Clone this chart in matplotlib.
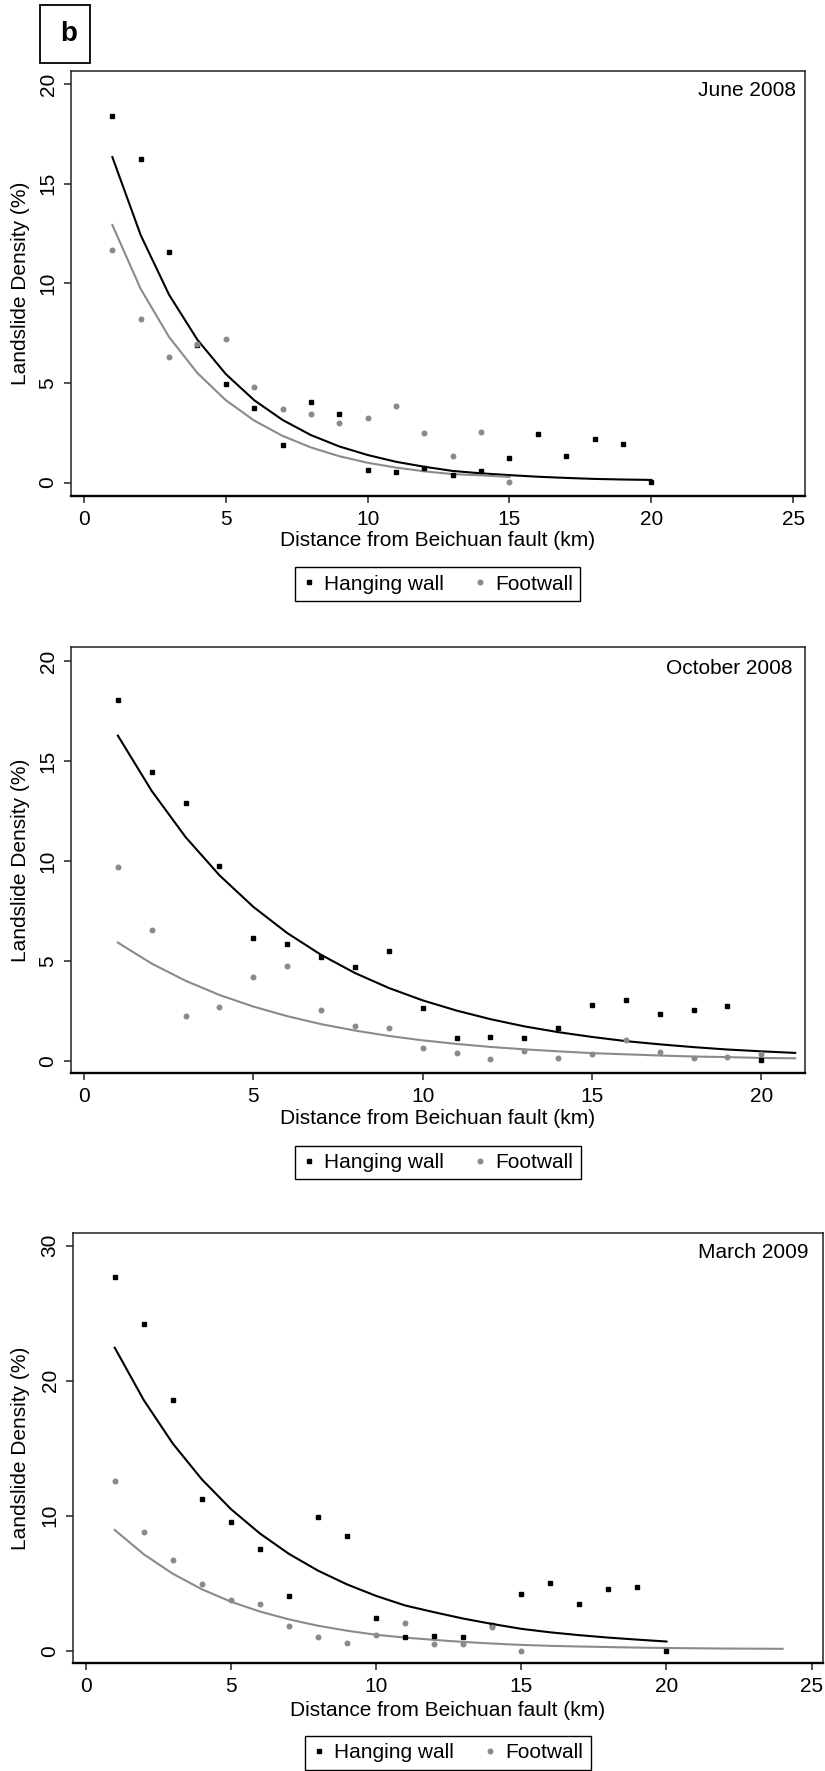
# Landslide density vs distance from Beichuan fault, three survey dates (panel b)
import matplotlib
matplotlib.use('Agg')
import matplotlib.pyplot as plt
from matplotlib.patches import Rectangle
from matplotlib.lines import Line2D

plt.rcParams['font.family'] = ['Liberation Sans', 'DejaVu Sans']

# ---- data ----
# June 2008
jun_hw_x = [1, 2, 3, 4, 5, 6, 7, 8, 9, 10, 11, 12, 13, 14, 15, 16, 17, 18, 19, 20]
jun_hw_y = [18.40, 16.25, 11.58, 6.9, 4.93, 3.74, 1.88, 4.04, 3.44, 0.61,
            0.51, 0.72, 0.36, 0.59, 1.21, 2.42, 1.35, 2.18, 1.95, 0.03]
jun_fw_x = [1, 2, 3, 4, 5, 6, 7, 8, 9, 10, 11, 12, 13, 14, 15]
jun_fw_y = [11.68, 8.19, 6.28, 6.93, 7.18, 4.79, 3.70, 3.45, 2.99, 3.24,
            3.82, 2.50, 1.31, 2.55, 0.04]
jun_hw_fit = [16.33, 12.41, 9.42, 7.16, 5.44, 4.13, 3.14, 2.38, 1.81, 1.38,
              1.04, 0.79, 0.58, 0.46, 0.37, 0.29, 0.23, 0.18, 0.15, 0.13]
jun_fw_fit = [12.92, 9.71, 7.30, 5.49, 4.13, 3.11, 2.34, 1.76, 1.32, 0.99,
              0.75, 0.56, 0.42, 0.36, 0.28]

# October 2008
oct_hw_x = [1, 2, 3, 4, 5, 6, 7, 8, 9, 10, 11, 12, 13, 14, 15, 16, 17, 18, 19, 20]
oct_hw_y = [18.05, 14.47, 12.91, 9.73, 6.15, 5.86, 5.2, 4.70, 5.49, 2.62,
            1.12, 1.19, 1.12, 1.62, 2.79, 3.04, 2.32, 2.55, 2.74, 0.04]
oct_fw_x = [1, 2, 3, 4, 5, 6, 7, 8, 9, 10, 11, 12, 13, 14, 15, 16, 17, 18, 19, 20]
oct_fw_y = [9.69, 6.53, 2.22, 2.70, 4.19, 4.74, 2.52, 1.75, 1.63, 0.62,
            0.38, 0.07, 0.5, 0.14, 0.32, 1.02, 0.45, 0.14, 0.2, 0.34]
oct_fit_x = [1, 2, 3, 4, 5, 6, 7, 8, 9, 10, 11, 12, 13, 14, 15, 16, 17, 18, 19, 20, 21]
oct_hw_fit = [16.27, 13.50, 11.19, 9.28, 7.70, 6.39, 5.30, 4.39, 3.64, 3.02,
              2.51, 2.08, 1.72, 1.43, 1.19, 0.98, 0.82, 0.68, 0.56, 0.47, 0.39]
oct_fw_fit = [5.91, 4.86, 4.00, 3.29, 2.71, 2.23, 1.83, 1.51, 1.24, 1.02,
              0.84, 0.69, 0.57, 0.47, 0.38, 0.32, 0.26, 0.21, 0.18, 0.14, 0.12]

# March 2009
mar_hw_x = [1, 2, 3, 4, 5, 6, 7, 8, 9, 10, 11, 12, 13, 14, 15, 16, 17, 18, 19, 20]
mar_hw_y = [27.7, 24.2, 18.55, 11.26, 9.56, 7.51, 4.07, 9.93, 8.50, 2.40,
            1.04, 1.11, 1.04, 1.9, 4.18, 4.99, 3.46, 4.55, 4.72, 0.0]
mar_fw_x = [1, 2, 3, 4, 5, 6, 7, 8, 9, 10, 11, 12, 13, 14, 15]
mar_fw_y = [12.57, 8.79, 6.72, 4.94, 3.78, 3.43, 1.81, 0.99, 0.55, 1.16,
            2.07, 0.47, 0.47, 1.78, 0.0]
mar_fit_fw_x = [1, 2, 3, 4, 5, 6, 7, 8, 9, 10, 11, 12, 13, 14, 15, 16,
                17, 18, 19, 20, 21, 22, 23, 24]
mar_hw_fit = [22.44, 18.56, 15.34, 12.69, 10.49, 8.68, 7.17, 5.93, 4.91, 4.06,
              3.35, 2.85, 2.38, 1.98, 1.62, 1.36, 1.15, 0.97, 0.82, 0.68]
mar_fw_fit = [8.94, 7.14, 5.70, 4.55, 3.63, 2.90, 2.32, 1.85, 1.48, 1.18,
              0.97, 0.80, 0.65, 0.53, 0.43, 0.36, 0.31, 0.27, 0.23, 0.20,
              0.18, 0.16, 0.15, 0.14]

titles = ['June 2008', 'October 2008', 'March 2009']
legend_labels = ['Hanging wall', 'Footwall']
xlabel = 'Distance from Beichuan fault (km)'
ylabel = 'Landslide Density (%)'

GRAY = '#8a8a8a'
W, H = 825, 1771
SQ_MS = 3.3
CI_MS = 4.3

fig = plt.figure(figsize=(W / 100, H / 100), dpi=100)

# panel layout in pixels: left, right, top, bottom; axis limits; ticks; text spots
panels = [
    dict(box=(70.7, 805, 71, 495.7), xlim=(-0.469, 25.42), ylim=(-0.662, 20.65),
         xticks=[0, 5, 10, 15, 20, 25], yticks=[0, 5, 10, 15, 20],
         hw=(jun_hw_x, jun_hw_y), fw=(jun_fw_x, jun_fw_y),
         hwfit=(jun_hw_x, jun_hw_fit), fwfit=(jun_fw_x, jun_fw_fit),
         title=(796, 90.5), xlab_y=541, leg=(437.5, 584)),
    dict(box=(70.7, 805, 647.3, 1073.3), xlim=(-0.393, 21.29), ylim=(-0.63, 20.69),
         xticks=[0, 5, 10, 15, 20], yticks=[0, 5, 10, 15, 20],
         hw=(oct_hw_x, oct_hw_y), fw=(oct_fw_x, oct_fw_y),
         hwfit=(oct_fit_x, oct_hw_fit), fwfit=(oct_fit_x, oct_fw_fit),
         title=(792, 668), xlab_y=1119, leg=(438, 1162.5)),
    dict(box=(72.7, 823.3, 1232.7, 1663.3), xlim=(-0.448, 25.40), ylim=(-0.933, 30.96),
         xticks=[0, 5, 10, 15, 20, 25], yticks=[0, 10, 20, 30],
         hw=(mar_hw_x, mar_hw_y), fw=(mar_fw_x, mar_fw_y),
         hwfit=(mar_hw_x, mar_hw_fit), fwfit=(mar_fit_fw_x, mar_fw_fit),
         title=(809, 1252.5), xlab_y=1710, leg=(448, 1753)),
]

for p, title in zip(panels, titles):
    l, r, t, b = p['box']
    ax = fig.add_axes([l / W, 1 - b / H, (r - l) / W, (b - t) / H])

    ax.plot(*p['hwfit'], color='black', lw=1.5)
    ax.plot(*p['fwfit'], color=GRAY, lw=1.5)
    ax.plot(*p['hw'], ls='none', marker='s', ms=SQ_MS, color='black', mec='black')
    ax.plot(*p['fw'], ls='none', marker='o', ms=CI_MS, color=GRAY, mec='none')

    ax.set_xlim(*p['xlim'])
    ax.set_ylim(*p['ylim'])
    ax.set_xticks(p['xticks'])
    ax.set_yticks(p['yticks'])
    ax.tick_params(direction='out', length=5, width=1.1, labelsize=15,
                   colors='#222222', labelcolor='black')
    ax.tick_params(axis='x', pad=5)
    ax.tick_params(axis='y', pad=4.5)
    for lab in ax.get_yticklabels():
        lab.set_rotation(90)
        lab.set_va('center')

    for side in ['left', 'top', 'right']:
        ax.spines[side].set_linewidth(1.1)
        ax.spines[side].set_color('#222222')
    ax.spines['bottom'].set_linewidth(1.7)
    ax.spines['bottom'].set_color('black')

    # titles and axis labels in figure pixels
    fig.text(p['title'][0] / W, 1 - p['title'][1] / H, title, ha='right', va='center',
             fontsize=15)
    fig.text((l + r) / 2 / W, 1 - p['xlab_y'] / H, xlabel, ha='center', va='center',
             fontsize=15)
    fig.text(21 / W, 1 - (t + b) / 2 / H, ylabel, ha='center', va='center',
             rotation=90, fontsize=15)

    handles = [Line2D([], [], ls='none', marker='s', ms=SQ_MS, color='black'),
               Line2D([], [], ls='none', marker='o', ms=CI_MS, color=GRAY, mec='none')]
    leg = fig.legend(handles, legend_labels, loc='center',
                     bbox_to_anchor=(p['leg'][0] / W, 1 - p['leg'][1] / H),
                     ncol=2, fontsize=15, frameon=True, fancybox=False,
                     edgecolor='black', framealpha=1, borderpad=0.35,
                     handlelength=0.6, handletextpad=0.43, columnspacing=1.43,
                     borderaxespad=0)
    leg.get_frame().set_linewidth(1.0)

# panel letter in a box
fig.patches.append(Rectangle((40 / W, 1 - 63 / H), 50 / W, 58 / H, fill=False,
                             edgecolor='black', lw=1.3, transform=fig.transFigure))
fig.text(68.8 / W, 1 - 34 / H, 'b', ha='center', va='center', fontsize=20,
         fontweight='bold')

fig.savefig('out.png', dpi=100)
